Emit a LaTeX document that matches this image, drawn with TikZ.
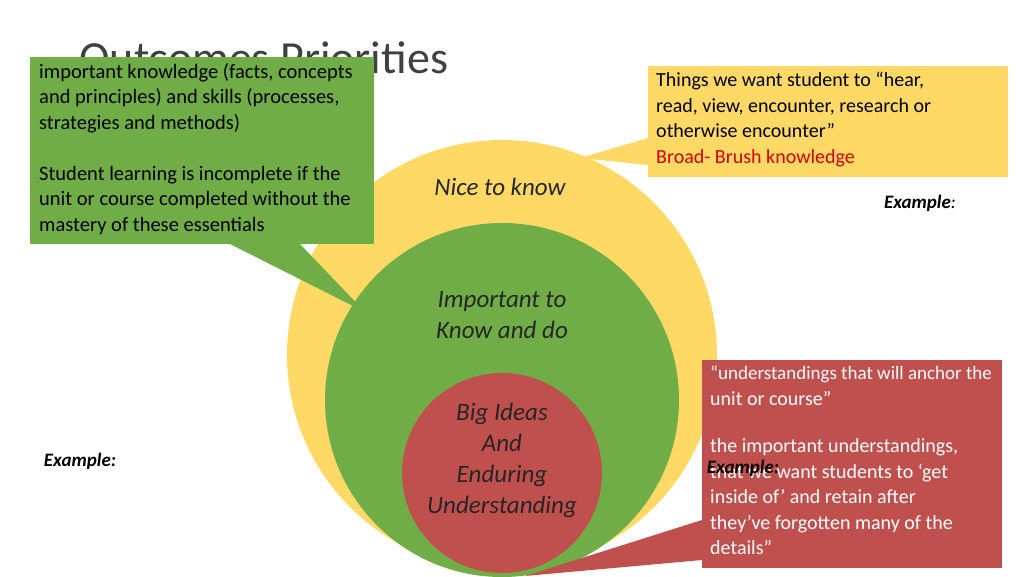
\documentclass[tikz,border=0pt]{standalone}
\usepackage{fontspec}
\setmainfont{Carlito}
\usetikzlibrary{positioning}
\definecolor{softyellow}{HTML}{FFD966}
\definecolor{leafgreen}{HTML}{70AD47}
\definecolor{brickred}{HTML}{C0504D}
\definecolor{titlegray}{HTML}{404040}
\begin{document}
\begin{tikzpicture}[x=1pt,y=-1pt,
    ring label/.style={align=center,font=\fontsize{25}{31}\selectfont\itshape,text=black!85},
    box text/.style={align=left,anchor=north west,inner sep=0pt,font=\fontsize{20}{25.5}\selectfont},
    example/.style={font=\fontsize{19}{22}\selectfont\bfseries\itshape}]
  \useasboundingbox[fill=white] (0,0) rectangle (1024,576);
  % title
  \node[anchor=west,font=\fontsize{46}{50}\selectfont,text=titlegray] (title) at (76,58) {Outcomes Priorities};
  % nested circles
  \fill[softyellow] (502,355) circle (215);
  \fill[leafgreen] (502,400) circle (177);
  \fill[brickred] (502,473) circle (100);
  \node[ring label] (nice) at (500,187) {Nice to know};
  \node[ring label] (important) at (502,315) {Important to\\Know and do};
  \node[ring label] (big) at (502,460) {Big Ideas\\And\\Enduring\\Understanding};
  % green callout
  \fill[leafgreen] (30,57) rectangle (374,244);
  \fill[leafgreen] (230,244) -- (365,312) -- (300,244) -- cycle;
  \node[box text,font=\fontsize{20.5}{25.5}\selectfont] (essential) at (39,63) {important knowledge (facts, concepts\\and principles) and skills (processes,\\strategies and methods)\\[25.5pt]Student learning is incomplete if the\\unit or course completed without the\\mastery of these essentials};
  % yellow callout
  \fill[softyellow] (648,66) rectangle (1008,177);
  \fill[softyellow] (648,138) -- (580,158) -- (648,165) -- cycle;
  \node[box text] (hear) at (656,72) {Things we want student to “hear,\\read, view, encounter, research or\\otherwise encounter”\\\textcolor{red!85!black}{Broad- Brush knowledge}};
  % red callout
  \fill[brickred] (702,360) rectangle (1002,568);
  \fill[brickred] (702,520) -- (525,576) -- (702,560) -- cycle;
  \node[box text,text=white] (anchor) at (710,366) {\fontsize{19}{22}\selectfont “understandings that will anchor the\\unit or course”\\[22pt]\fontsize{20}{25.5}\selectfont the important understandings,\\that we want students to ‘get\\inside of’ and retain after\\they’ve forgotten many of the\\details”};
  % examples
  \node[example] (exright) at (920,203) {Example\textmd{:}};
  \node[example] (exleft) at (80,461) {Example:};
  \node[example] (exred) at (743,468) {Example:};
\end{tikzpicture}
\end{document}
